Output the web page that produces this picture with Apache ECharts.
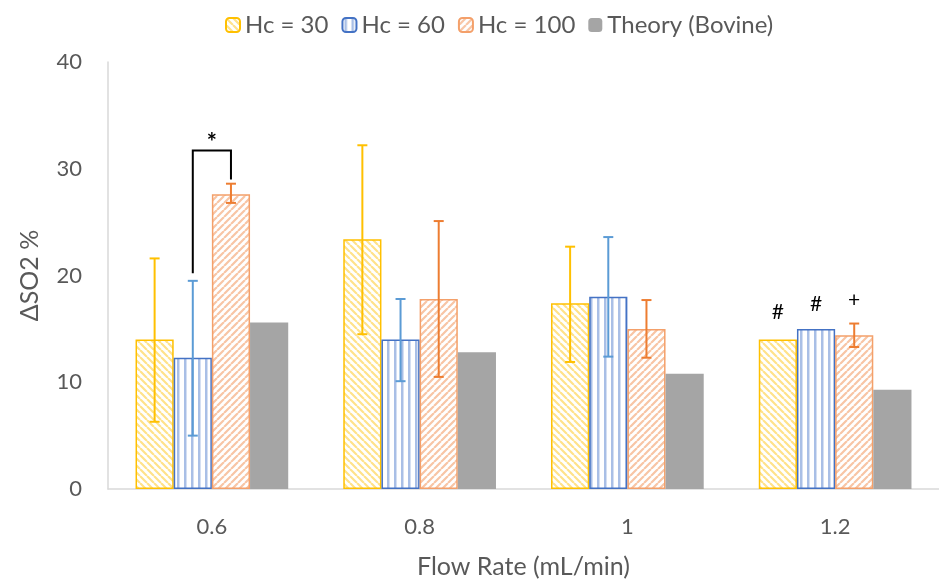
<!DOCTYPE html>
<html>
<head>
<meta charset="utf-8">
<script src="https://cdn.jsdelivr.net/npm/echarts@6/dist/echarts.min.js"></script>
<style>
  html, body { margin: 0; padding: 0; background: #fff; }
  #chart { width: 939px; height: 584px; }
</style>
</head>
<body>
<div id="chart"></div>
<script>
// data
const flowRates = ['0.6', '0.8', '1', '1.2'];
const seriesNames = ['Hc = 30', 'Hc = 60', 'Hc = 100', 'Theory (Bovine)'];

const hc30 = [14.0, 23.4, 17.4, 14.0];
const hc60 = [12.3, 14.0, 18.0, 15.0];
const hc100 = [27.6, 17.8, 15.0, 14.4];
const theory = [15.6, 12.8, 10.8, 9.3];

// error bar ends [low, high], null = no bar
const hc30Err = [[6.3, 21.6], [14.5, 32.2], [11.9, 22.7], null];
const hc60Err = [[5.0, 19.5], [10.1, 17.8], [12.4, 23.6], null];
const hc100Err = [[26.8, 28.6], [10.5, 25.1], [12.3, 17.7], [13.3, 15.5]];

// significance marks: [category, bar index, y value, text]
const marks = [[3, 0, 16.6, '#'], [3, 1, 17.3, '#'], [3, 2, 17.7, '+']];
// bracket between Hc60 and Hc100 at 0.6: left foot, top, right foot, star
const bracket = { cat: 0, from: 1, to: 2, leftY: 20.2, topY: 31.7, rightY: 29.0, starY: 32.9 };

const gapRatio = 0.265;

function stripes(kind, bg, fg) {
    const s = 7;
    const c = document.createElement('canvas');
    c.width = s; c.height = s;
    const ctx = c.getContext('2d');
    ctx.fillStyle = bg;
    ctx.fillRect(0, 0, s, s);
    ctx.strokeStyle = fg;
    ctx.fillStyle = fg;
    ctx.lineWidth = 2.2;
    if (kind === 'v') {
        ctx.fillRect(2, 0, 2.5, s);
    } else {
        ctx.beginPath();
        for (let k = -s; k <= s; k += s) {
            if (kind === 'back') { ctx.moveTo(k, 0); ctx.lineTo(k + s, s); }
            else { ctx.moveTo(k, s); ctx.lineTo(k + s, 0); }
        }
        ctx.stroke();
    }
    return { image: c, repeat: 'repeat' };
}

const chart = echarts.init(document.getElementById('chart'));

function barX(api, cat, idx) {
    const x0 = api.coord([cat, 0])[0];
    const band = api.size([1, 0])[0];
    const w = band * (1 - gapRatio) / 4;
    return x0 + (idx - 1.5) * w;
}

function errSeries(errs, idx, color) {
    const data = [];
    errs.forEach((e, i) => { if (e) data.push([i, e[0], e[1]]); });
    return {
        type: 'custom',
        silent: true,
        z: 5,
        data: data,
        renderItem: function (params, api) {
            const x = barX(api, api.value(0), idx);
            const lo = api.coord([api.value(0), api.value(1)])[1];
            const hi = api.coord([api.value(0), api.value(2)])[1];
            const st = { stroke: color, lineWidth: 2 };
            return {
                type: 'group',
                children: [
                    { type: 'line', shape: { x1: x, y1: lo, x2: x, y2: hi }, style: st },
                    { type: 'line', shape: { x1: x - 5, y1: lo, x2: x + 5, y2: lo }, style: st },
                    { type: 'line', shape: { x1: x - 5, y1: hi, x2: x + 5, y2: hi }, style: st }
                ]
            };
        }
    };
}

const barBase = {
    type: 'bar',
    barGap: 0,
    barCategoryGap: (gapRatio * 100) + '%'
};

const option = {
    animation: false,
    textStyle: { fontFamily: 'Lato, sans-serif' },
    legend: {
        top: 8,
        left: 220,
        itemWidth: 14,
        itemHeight: 14,
        itemGap: 13,
        textStyle: { fontSize: 24, color: '#595959', fontFamily: 'Lato, sans-serif' },
        data: seriesNames
    },
    grid: { left: 108, top: 62, width: 839, height: 433 },
    xAxis: {
        type: 'category',
        data: flowRates,
        axisLine: { lineStyle: { color: '#D9D9D9', width: 1.5 } },
        axisTick: { show: false },
        axisLabel: { fontSize: 22, color: '#595959', margin: 27 },
        name: 'Flow Rate (mL/min)',
        nameLocation: 'middle',
        nameGap: 65,
        nameTextStyle: { fontSize: 25, color: '#595959' }
    },
    yAxis: {
        type: 'value',
        min: 0,
        max: 40,
        interval: 10,
        splitLine: { show: false },
        axisLine: { show: true, lineStyle: { color: '#D9D9D9', width: 1.5 } },
        axisLabel: { fontSize: 22, color: '#595959', margin: 26 },
        name: 'ΔSO2 %',
        nameLocation: 'middle',
        nameRotate: 90,
        nameGap: 66,
        nameTextStyle: { fontSize: 25, color: '#595959' }
    },
    series: [
        Object.assign({}, barBase, {
            name: seriesNames[0], data: hc30,
            itemStyle: { color: stripes('back', '#ffffff', '#FFE28A'), borderColor: '#FFC000', borderWidth: 1.5 }
        }),
        Object.assign({}, barBase, {
            name: seriesNames[1], data: hc60,
            itemStyle: { color: stripes('v', '#ffffff', '#A9BFE6'), borderColor: '#4472C4', borderWidth: 1.5 }
        }),
        Object.assign({}, barBase, {
            name: seriesNames[2], data: hc100,
            itemStyle: { color: stripes('fwd', '#ffffff', '#F8C5A5'), borderColor: '#F4A06A', borderWidth: 1.5 }
        }),
        Object.assign({}, barBase, {
            name: seriesNames[3], data: theory,
            itemStyle: { color: '#A5A5A5' }
        }),
        errSeries(hc30Err, 0, '#FFC000'),
        errSeries(hc60Err, 1, '#5B9BD5'),
        errSeries(hc100Err, 2, '#ED7D31'),
        {
            type: 'custom',
            silent: true,
            z: 6,
            data: marks.map(m => [m[0], m[1], m[2]]),
            renderItem: function (params, api) {
                const x = barX(api, api.value(0), api.value(1));
                const y = api.coord([api.value(0), api.value(2)])[1];
                return {
                    type: 'text',
                    style: {
                        x: x, y: y, text: marks[params.dataIndex][3],
                        fill: '#000', font: '21px Lato, sans-serif',
                        align: 'center', verticalAlign: 'middle'
                    }
                };
            }
        },
        {
            type: 'custom',
            silent: true,
            z: 6,
            data: [[bracket.cat, bracket.leftY, bracket.topY, bracket.rightY, bracket.starY]],
            renderItem: function (params, api) {
                const c = api.value(0);
                const x1 = barX(api, c, bracket.from);
                const x2 = barX(api, c, bracket.to);
                const yl = api.coord([c, api.value(1)])[1];
                const yt = api.coord([c, api.value(2)])[1];
                const yr = api.coord([c, api.value(3)])[1];
                const ys = api.coord([c, api.value(4)])[1];
                return {
                    type: 'group',
                    children: [
                        {
                            type: 'polyline',
                            shape: { points: [[x1, yl], [x1, yt], [x2, yt], [x2, yr]] },
                            style: { stroke: '#000', lineWidth: 2, fill: null }
                        },
                        {
                            type: 'text',
                            style: {
                                x: (x1 + x2) / 2, y: ys + 5, text: '*',
                                fill: '#000', font: 'bold 24px Lato, sans-serif',
                                align: 'center', verticalAlign: 'middle'
                            }
                        }
                    ]
                };
            }
        }
    ]
};

chart.setOption(option);
</script>
</body>
</html>
